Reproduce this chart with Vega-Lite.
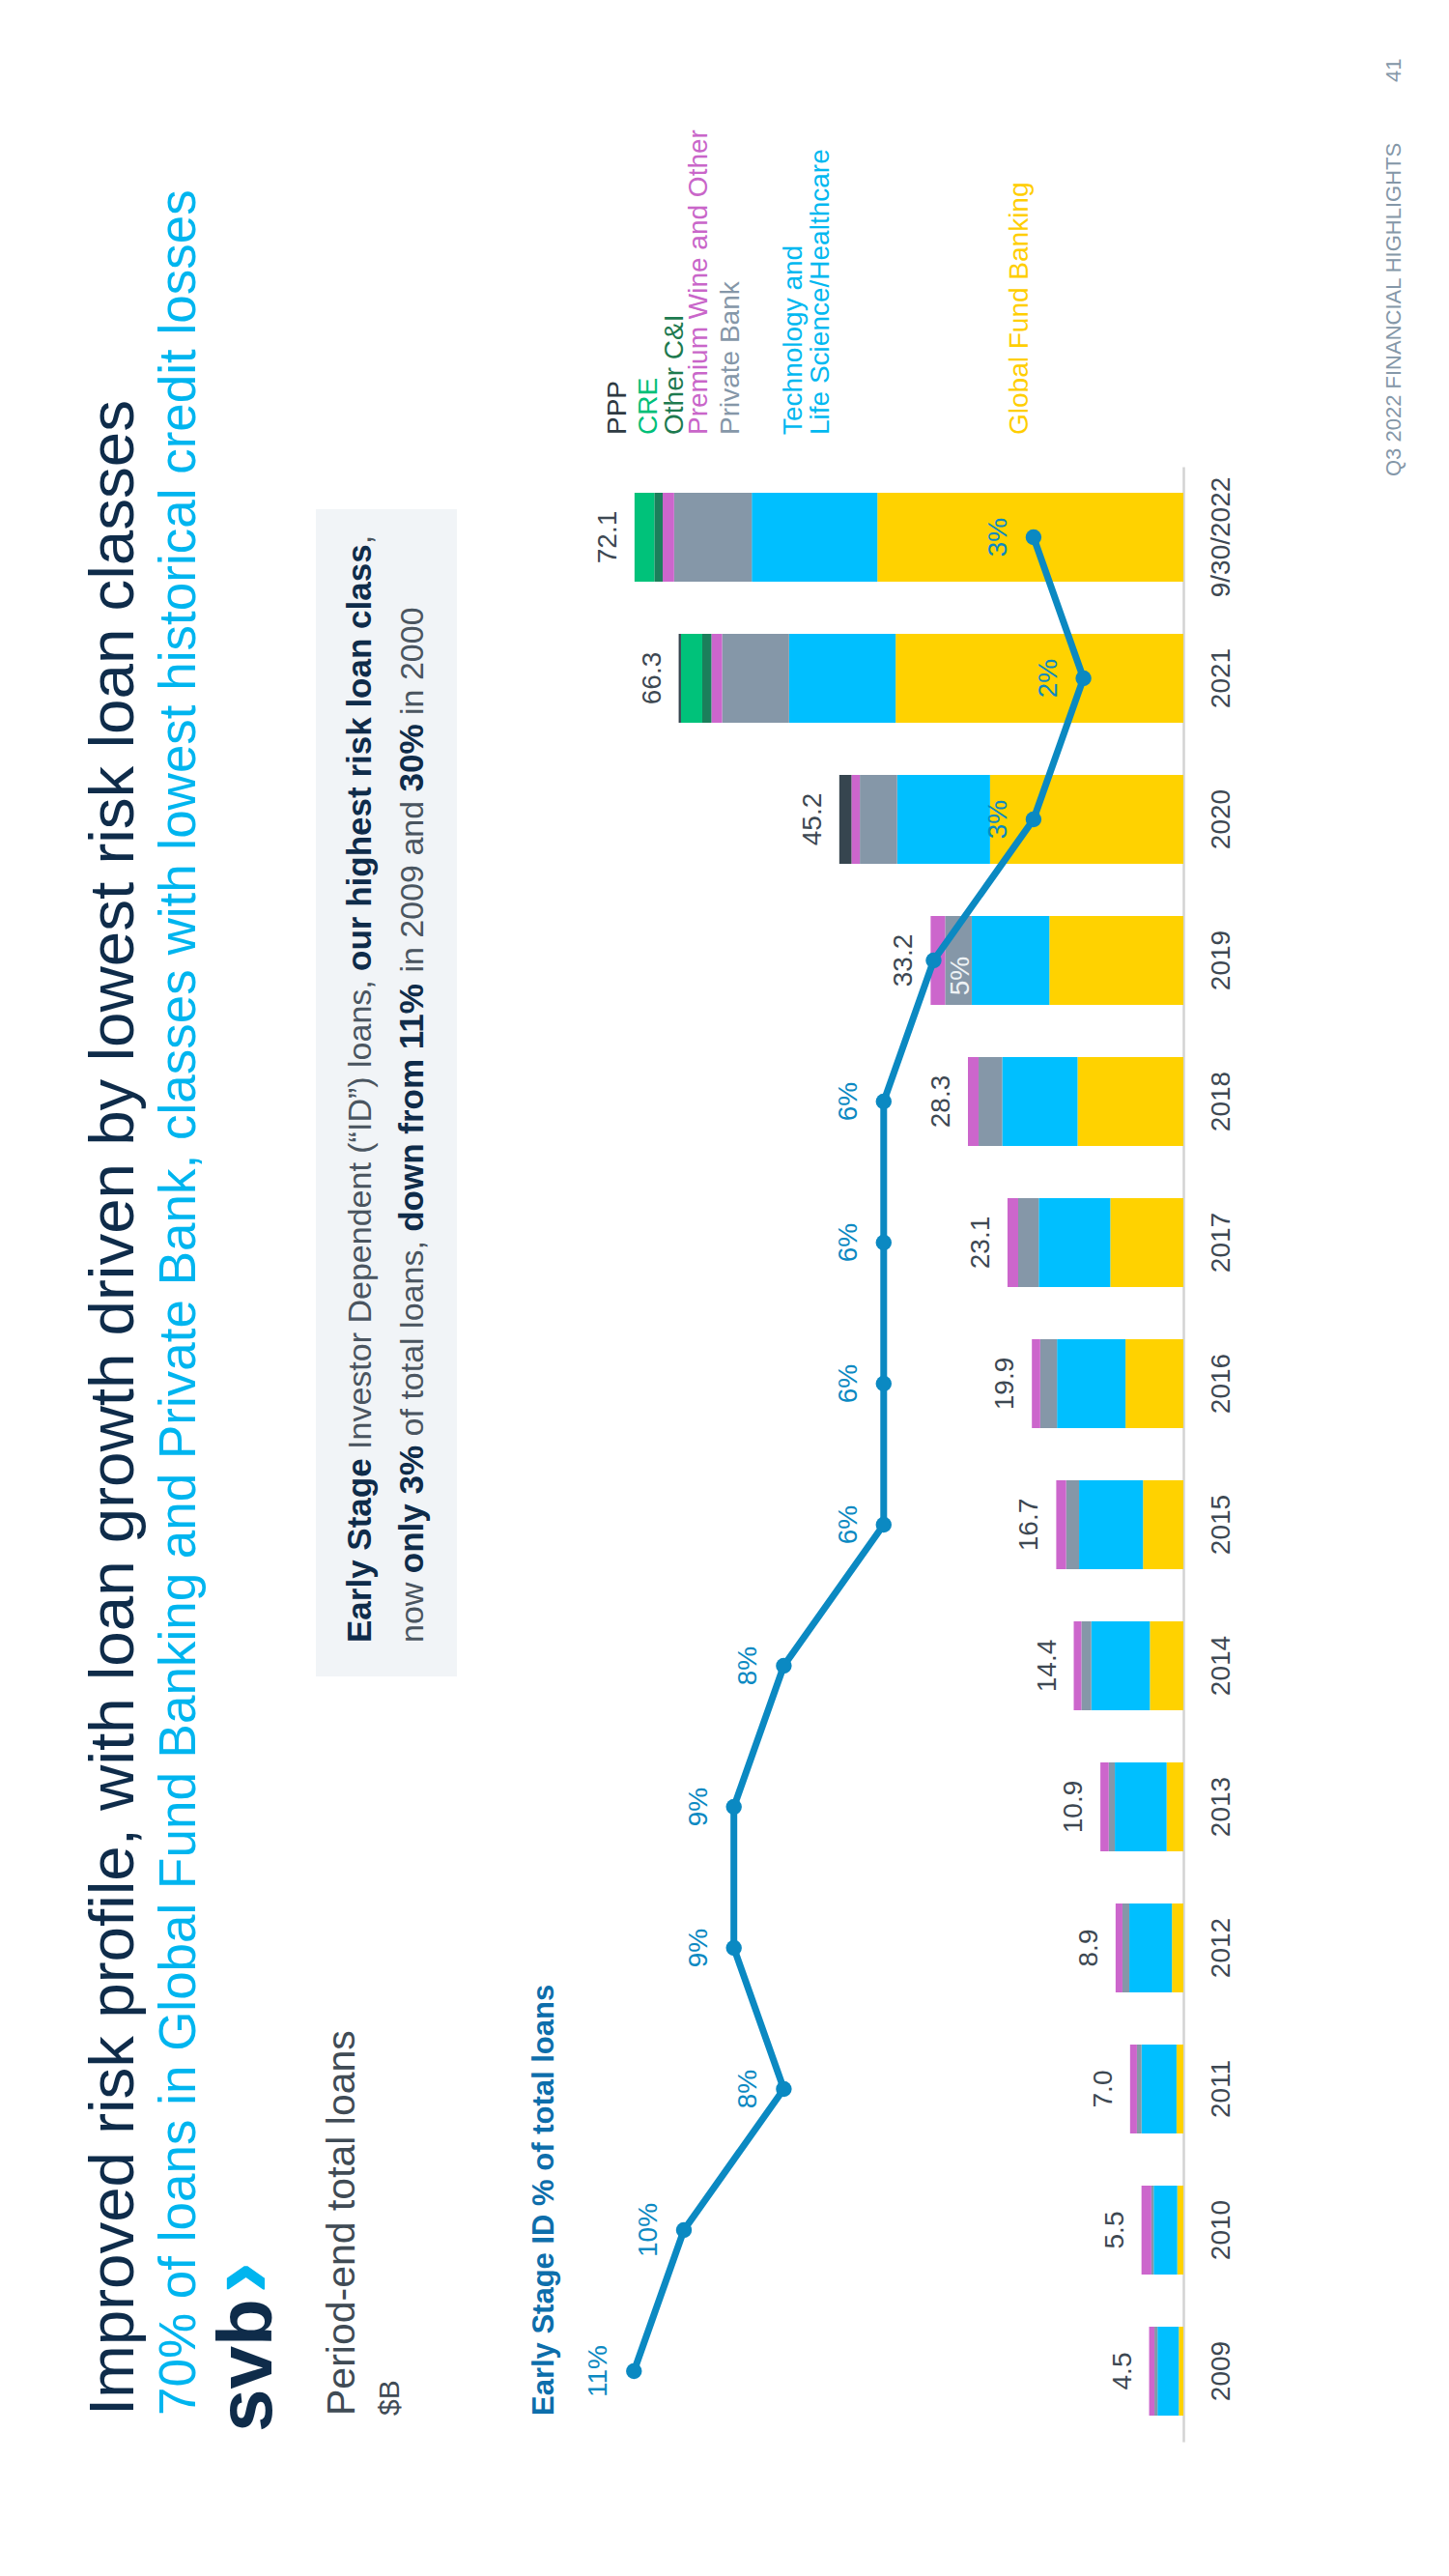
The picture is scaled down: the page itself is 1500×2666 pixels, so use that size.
{
  "$schema": "https://vega.github.io/schema/vega-lite/v6.json",
  "width": 1225,
  "height": 2044,
  "autosize": {"type": "none"},
  "padding": {"left": 0, "top": 483, "right": 275, "bottom": 139},
  "background": "white",
  "config": {
    "view": {"stroke": null},
    "text": {"font": "Liberation Sans", "angle": 270},
    "axisY": {"labelFont": "Liberation Sans", "ticks": false, "labelAngle": 270, "labelAlign": "center", "labelBaseline": "top", "labelPadding": 25, "labelFontSize": 28, "labelColor": "#3D4852", "domainColor": "#D3D3D3", "domainWidth": 2.5, "grid": false}
  },
  "datasets": {
    "loans": [
      {"year": "2009", "cls": "Global Fund Banking", "v": 0.6, "k": 1},
      {"year": "2009", "cls": "Technology and Life Science/Healthcare", "v": 2.8, "k": 2},
      {"year": "2009", "cls": "Private Bank", "v": 0.4, "k": 3},
      {"year": "2009", "cls": "Premium Wine and Other", "v": 0.7, "k": 4},
      {"year": "2010", "cls": "Global Fund Banking", "v": 0.8, "k": 1},
      {"year": "2010", "cls": "Technology and Life Science/Healthcare", "v": 3.1, "k": 2},
      {"year": "2010", "cls": "Private Bank", "v": 0.3, "k": 3},
      {"year": "2010", "cls": "Premium Wine and Other", "v": 1.3, "k": 4},
      {"year": "2011", "cls": "Global Fund Banking", "v": 0.9, "k": 1},
      {"year": "2011", "cls": "Technology and Life Science/Healthcare", "v": 4.6, "k": 2},
      {"year": "2011", "cls": "Private Bank", "v": 0.6, "k": 3},
      {"year": "2011", "cls": "Premium Wine and Other", "v": 0.9, "k": 4},
      {"year": "2012", "cls": "Global Fund Banking", "v": 1.5, "k": 1},
      {"year": "2012", "cls": "Technology and Life Science/Healthcare", "v": 5.6, "k": 2},
      {"year": "2012", "cls": "Private Bank", "v": 0.9, "k": 3},
      {"year": "2012", "cls": "Premium Wine and Other", "v": 0.9, "k": 4},
      {"year": "2013", "cls": "Global Fund Banking", "v": 2.2, "k": 1},
      {"year": "2013", "cls": "Technology and Life Science/Healthcare", "v": 6.8, "k": 2},
      {"year": "2013", "cls": "Private Bank", "v": 0.8, "k": 3},
      {"year": "2013", "cls": "Premium Wine and Other", "v": 1.1, "k": 4},
      {"year": "2014", "cls": "Global Fund Banking", "v": 4.4, "k": 1},
      {"year": "2014", "cls": "Technology and Life Science/Healthcare", "v": 7.7, "k": 2},
      {"year": "2014", "cls": "Private Bank", "v": 1.3, "k": 3},
      {"year": "2014", "cls": "Premium Wine and Other", "v": 1.0, "k": 4},
      {"year": "2015", "cls": "Global Fund Banking", "v": 5.3, "k": 1},
      {"year": "2015", "cls": "Technology and Life Science/Healthcare", "v": 8.4, "k": 2},
      {"year": "2015", "cls": "Private Bank", "v": 1.7, "k": 3},
      {"year": "2015", "cls": "Premium Wine and Other", "v": 1.3, "k": 4},
      {"year": "2016", "cls": "Global Fund Banking", "v": 7.6, "k": 1},
      {"year": "2016", "cls": "Technology and Life Science/Healthcare", "v": 9.0, "k": 2},
      {"year": "2016", "cls": "Private Bank", "v": 2.2, "k": 3},
      {"year": "2016", "cls": "Premium Wine and Other", "v": 1.1, "k": 4},
      {"year": "2017", "cls": "Global Fund Banking", "v": 9.6, "k": 1},
      {"year": "2017", "cls": "Technology and Life Science/Healthcare", "v": 9.4, "k": 2},
      {"year": "2017", "cls": "Private Bank", "v": 2.7, "k": 3},
      {"year": "2017", "cls": "Premium Wine and Other", "v": 1.4, "k": 4},
      {"year": "2018", "cls": "Global Fund Banking", "v": 13.9, "k": 1},
      {"year": "2018", "cls": "Technology and Life Science/Healthcare", "v": 9.9, "k": 2},
      {"year": "2018", "cls": "Private Bank", "v": 3.1, "k": 3},
      {"year": "2018", "cls": "Premium Wine and Other", "v": 1.4, "k": 4},
      {"year": "2019", "cls": "Global Fund Banking", "v": 17.6, "k": 1},
      {"year": "2019", "cls": "Technology and Life Science/Healthcare", "v": 10.2, "k": 2},
      {"year": "2019", "cls": "Private Bank", "v": 3.5, "k": 3},
      {"year": "2019", "cls": "Premium Wine and Other", "v": 1.9, "k": 4},
      {"year": "2020", "cls": "Global Fund Banking", "v": 25.4, "k": 1},
      {"year": "2020", "cls": "Technology and Life Science/Healthcare", "v": 12.2, "k": 2},
      {"year": "2020", "cls": "Private Bank", "v": 4.9, "k": 3},
      {"year": "2020", "cls": "Premium Wine and Other", "v": 1.1, "k": 4},
      {"year": "2020", "cls": "PPP", "v": 1.6, "k": 7},
      {"year": "2021", "cls": "Global Fund Banking", "v": 37.8, "k": 1},
      {"year": "2021", "cls": "Technology and Life Science/Healthcare", "v": 14.0, "k": 2},
      {"year": "2021", "cls": "Private Bank", "v": 8.8, "k": 3},
      {"year": "2021", "cls": "Premium Wine and Other", "v": 1.4, "k": 4},
      {"year": "2021", "cls": "Other C&I", "v": 1.2, "k": 5},
      {"year": "2021", "cls": "CRE", "v": 2.8, "k": 6},
      {"year": "2021", "cls": "PPP", "v": 0.3, "k": 7},
      {"year": "9/30/2022", "cls": "Global Fund Banking", "v": 40.2, "k": 1},
      {"year": "9/30/2022", "cls": "Technology and Life Science/Healthcare", "v": 16.5, "k": 2},
      {"year": "9/30/2022", "cls": "Private Bank", "v": 10.2, "k": 3},
      {"year": "9/30/2022", "cls": "Premium Wine and Other", "v": 1.5, "k": 4},
      {"year": "9/30/2022", "cls": "Other C&I", "v": 1.1, "k": 5},
      {"year": "9/30/2022", "cls": "CRE", "v": 2.6, "k": 6}
    ],
    "totals": [
      {"year": "2009", "total": 4.5, "pct": 0.11},
      {"year": "2010", "total": 5.5, "pct": 0.10},
      {"year": "2011", "total": 7.0, "pct": 0.08},
      {"year": "2012", "total": 8.9, "pct": 0.09},
      {"year": "2013", "total": 10.9, "pct": 0.09},
      {"year": "2014", "total": 14.4, "pct": 0.08},
      {"year": "2015", "total": 16.7, "pct": 0.06},
      {"year": "2016", "total": 19.9, "pct": 0.06},
      {"year": "2017", "total": 23.1, "pct": 0.06},
      {"year": "2018", "total": 28.3, "pct": 0.06},
      {"year": "2019", "total": 33.2, "pct": 0.05},
      {"year": "2020", "total": 45.2, "pct": 0.03},
      {"year": "2021", "total": 66.3, "pct": 0.02},
      {"year": "9/30/2022", "total": 72.1, "pct": 0.03}
    ]
  },
  "resolve": {"scale": {"x": "independent"}},
  "layer": [
    {
      "data": {"values": [{}]},
      "layer": [
        {
          "data": {"name": "loans"},
          "mark": {"type": "bar"},
          "encoding": {
            "y": {
              "field": "year", "type": "nominal",
              "scale": {"domain": ["9/30/2022","2021","2020","2019","2018","2017","2016","2015","2014","2013","2012","2011","2010","2009"], "paddingInner": 0.37, "paddingOuter": 0.185},
              "axis": {"orient": "right", "title": null}
            },
            "x": {"field": "v", "type": "quantitative", "stack": "zero", "scale": {"domain": [0, 155.46], "reverse": true, "nice": false, "zero": true}, "axis": null},
            "color": {
              "field": "cls", "type": "nominal",
              "scale": {"domain": ["Global Fund Banking","Technology and Life Science/Healthcare","Private Bank","Premium Wine and Other","Other C&I","CRE","PPP"], "range": ["#FFD200","#00BFFF","#8597A8","#CC66CC","#1B7F5B","#00C27A","#36454F"]},
              "legend": null
            },
            "order": {"field": "k", "type": "quantitative", "sort": "ascending"}
          }
        },
        {
          "data": {"name": "totals"},
          "mark": {"type": "text", "align": "center", "baseline": "alphabetic", "dy": -19, "fontSize": 28, "color": "#3D4852"},
          "encoding": {
            "y": {"field": "year", "type": "nominal", "axis": {"orient": "right", "title": null}},
            "x": {"field": "total", "type": "quantitative", "axis": null},
            "text": {"field": "total", "type": "quantitative", "format": ".1f"}
          }
        },
        {
          "mark": {"type": "rule", "strokeWidth": 146, "color": "#F1F4F7", "strokeCap": "butt", "yOffset": -29, "y2Offset": 11},
          "encoding": {
            "x": {"datum": 104.7, "type": "quantitative", "axis": null},
            "y": {"datum": "9/30/2022", "type": "nominal", "axis": {"orient": "right", "title": null}},
            "y2": {"datum": "2014"}
          }
        },
        {
          "mark": {"type": "text", "align": "left", "baseline": "alphabetic", "fontSize": 65.5, "color": "#0F2C4A", "dx": -46},
          "encoding": {"x": {"datum": 137.94, "type": "quantitative", "axis": null}, "y": {"datum": "2009", "type": "nominal", "axis": {"orient": "right", "title": null}}, "text": {"value": "Improved risk profile, with loan growth driven by lowest risk loan classes"}}
        },
        {
          "mark": {"type": "text", "align": "left", "baseline": "alphabetic", "fontSize": 53, "color": "#00B5EF", "dx": -46},
          "encoding": {"x": {"datum": 129.82, "type": "quantitative", "axis": null}, "y": {"datum": "2009", "type": "nominal", "axis": {"orient": "right", "title": null}}, "text": {"value": "70% of loans in Global Fund Banking and Private Bank, classes with lowest historical credit losses"}}
        },
        {
          "mark": {"type": "text", "align": "left", "baseline": "alphabetic", "fontSize": 41, "color": "#404B55", "dx": -46},
          "encoding": {"x": {"datum": 108.88, "type": "quantitative", "axis": null}, "y": {"datum": "2009", "type": "nominal", "axis": {"orient": "right", "title": null}}, "text": {"value": "Period-end total loans"}}
        },
        {
          "mark": {"type": "text", "align": "left", "baseline": "alphabetic", "fontSize": 30, "color": "#404B55", "dx": -46},
          "encoding": {"x": {"datum": 103.05, "type": "quantitative", "axis": null}, "y": {"datum": "2009", "type": "nominal", "axis": {"orient": "right", "title": null}}, "text": {"value": "$B"}}
        },
        {
          "mark": {"type": "text", "align": "left", "baseline": "alphabetic", "fontSize": 31, "fontWeight": "bold", "color": "#0D6EAB", "dx": -46},
          "encoding": {"x": {"datum": 82.74, "type": "quantitative", "axis": null}, "y": {"datum": "2009", "type": "nominal", "axis": {"orient": "right", "title": null}}, "text": {"value": "Early Stage ID % of total loans"}}
        },
        {
          "mark": {"type": "text", "align": "left", "baseline": "alphabetic", "fontSize": 80, "fontWeight": "bold", "color": "#0F2C4A", "dx": -63},
          "encoding": {"x": {"datum": 119.8, "type": "quantitative", "axis": null}, "y": {"datum": "2009", "type": "nominal", "axis": {"orient": "right", "title": null}}, "text": {"value": "svb"}}
        },
        {
          "mark": {"type": "text", "align": "left", "baseline": "alphabetic", "fontSize": 100, "fontWeight": "bold", "color": "#00B5EF", "dx": 80},
          "encoding": {"x": {"datum": 119.8, "type": "quantitative", "axis": null}, "y": {"datum": "2009", "type": "nominal", "axis": {"orient": "right", "title": null}}, "text": {"value": "›"}}
        },
        {
          "mark": {"type": "text", "align": "left", "baseline": "alphabetic", "fontSize": 35, "fontWeight": "bold", "color": "#0F2C4A", "dx": 24},
          "encoding": {"x": {"datum": 106.75, "type": "quantitative", "axis": null}, "y": {"datum": "2014", "type": "nominal", "axis": {"orient": "right", "title": null}}, "text": {"value": "Early Stage"}}
        },
        {
          "mark": {"type": "text", "align": "left", "baseline": "alphabetic", "fontSize": 34, "color": "#4A5560", "dx": 224.1},
          "encoding": {"x": {"datum": 106.75, "type": "quantitative", "axis": null}, "y": {"datum": "2014", "type": "nominal", "axis": {"orient": "right", "title": null}}, "text": {"value": "Investor Dependent (“ID”) loans,"}}
        },
        {
          "mark": {"type": "text", "align": "left", "baseline": "alphabetic", "fontSize": 35, "fontWeight": "bold", "color": "#0F2C4A", "dx": 719.1},
          "encoding": {"x": {"datum": 106.75, "type": "quantitative", "axis": null}, "y": {"datum": "2014", "type": "nominal", "axis": {"orient": "right", "title": null}}, "text": {"value": "our highest risk loan class"}}
        },
        {
          "mark": {"type": "text", "align": "left", "baseline": "alphabetic", "fontSize": 34, "color": "#4A5560", "dx": 1160.7},
          "encoding": {"x": {"datum": 106.75, "type": "quantitative", "axis": null}, "y": {"datum": "2014", "type": "nominal", "axis": {"orient": "right", "title": null}}, "text": {"value": ","}}
        },
        {
          "mark": {"type": "text", "align": "left", "baseline": "alphabetic", "fontSize": 34, "color": "#4A5560", "dx": 24},
          "encoding": {"x": {"datum": 99.9, "type": "quantitative", "axis": null}, "y": {"datum": "2014", "type": "nominal", "axis": {"orient": "right", "title": null}}, "text": {"value": "now"}}
        },
        {
          "mark": {"type": "text", "align": "left", "baseline": "alphabetic", "fontSize": 35, "fontWeight": "bold", "color": "#0F2C4A", "dx": 95.8},
          "encoding": {"x": {"datum": 99.9, "type": "quantitative", "axis": null}, "y": {"datum": "2014", "type": "nominal", "axis": {"orient": "right", "title": null}}, "text": {"value": "only 3%"}}
        },
        {
          "mark": {"type": "text", "align": "left", "baseline": "alphabetic", "fontSize": 34, "color": "#4A5560", "dx": 237.6},
          "encoding": {"x": {"datum": 99.9, "type": "quantitative", "axis": null}, "y": {"datum": "2014", "type": "nominal", "axis": {"orient": "right", "title": null}}, "text": {"value": "of total loans,"}}
        },
        {
          "mark": {"type": "text", "align": "left", "baseline": "alphabetic", "fontSize": 35, "fontWeight": "bold", "color": "#0F2C4A", "dx": 449.2},
          "encoding": {"x": {"datum": 99.9, "type": "quantitative", "axis": null}, "y": {"datum": "2014", "type": "nominal", "axis": {"orient": "right", "title": null}}, "text": {"value": "down from 11%"}}
        },
        {
          "mark": {"type": "text", "align": "left", "baseline": "alphabetic", "fontSize": 34, "color": "#4A5560", "dx": 717.4},
          "encoding": {"x": {"datum": 99.9, "type": "quantitative", "axis": null}, "y": {"datum": "2014", "type": "nominal", "axis": {"orient": "right", "title": null}}, "text": {"value": "in 2009 and"}}
        },
        {
          "mark": {"type": "text", "align": "left", "baseline": "alphabetic", "fontSize": 35, "fontWeight": "bold", "color": "#0F2C4A", "dx": 904.5},
          "encoding": {"x": {"datum": 99.9, "type": "quantitative", "axis": null}, "y": {"datum": "2014", "type": "nominal", "axis": {"orient": "right", "title": null}}, "text": {"value": "30%"}}
        },
        {
          "mark": {"type": "text", "align": "left", "baseline": "alphabetic", "fontSize": 34, "color": "#4A5560", "dx": 984},
          "encoding": {"x": {"datum": 99.9, "type": "quantitative", "axis": null}, "y": {"datum": "2014", "type": "nominal", "axis": {"orient": "right", "title": null}}, "text": {"value": "in 2000"}}
        },
        {
          "mark": {"type": "text", "align": "left", "baseline": "alphabetic", "fontSize": 28, "color": "#2E3A42", "dx": 106},
          "encoding": {"x": {"datum": 73.22, "type": "quantitative", "axis": null}, "y": {"datum": "9/30/2022", "type": "nominal", "axis": {"orient": "right", "title": null}}, "text": {"value": "PPP"}}
        },
        {
          "mark": {"type": "text", "align": "left", "baseline": "alphabetic", "fontSize": 28, "color": "#00BF78", "dx": 106},
          "encoding": {"x": {"datum": 69.16, "type": "quantitative", "axis": null}, "y": {"datum": "9/30/2022", "type": "nominal", "axis": {"orient": "right", "title": null}}, "text": {"value": "CRE"}}
        },
        {
          "mark": {"type": "text", "align": "left", "baseline": "alphabetic", "fontSize": 28, "color": "#1D7A4F", "dx": 106},
          "encoding": {"x": {"datum": 65.74, "type": "quantitative", "axis": null}, "y": {"datum": "9/30/2022", "type": "nominal", "axis": {"orient": "right", "title": null}}, "text": {"value": "Other C&I"}}
        },
        {
          "mark": {"type": "text", "align": "left", "baseline": "alphabetic", "fontSize": 28, "color": "#C966C9", "dx": 106},
          "encoding": {"x": {"datum": 62.56, "type": "quantitative", "axis": null}, "y": {"datum": "9/30/2022", "type": "nominal", "axis": {"orient": "right", "title": null}}, "text": {"value": "Premium Wine and Other"}}
        },
        {
          "mark": {"type": "text", "align": "left", "baseline": "alphabetic", "fontSize": 28, "color": "#8597A8", "dx": 106},
          "encoding": {"x": {"datum": 58.38, "type": "quantitative", "axis": null}, "y": {"datum": "9/30/2022", "type": "nominal", "axis": {"orient": "right", "title": null}}, "text": {"value": "Private Bank"}}
        },
        {
          "mark": {"type": "text", "align": "left", "baseline": "alphabetic", "fontSize": 28, "lineHeight": 28, "color": "#00B8F0", "dx": 106},
          "encoding": {"x": {"datum": 50.13, "type": "quantitative", "axis": null}, "y": {"datum": "9/30/2022", "type": "nominal", "axis": {"orient": "right", "title": null}}, "text": {"value": ["Technology and", "Life Science/Healthcare"]}}
        },
        {
          "mark": {"type": "text", "align": "left", "baseline": "alphabetic", "fontSize": 28, "color": "#FFCE00", "dx": 106},
          "encoding": {"x": {"datum": 20.43, "type": "quantitative", "axis": null}, "y": {"datum": "9/30/2022", "type": "nominal", "axis": {"orient": "right", "title": null}}, "text": {"value": "Global Fund Banking"}}
        },
        {
          "mark": {"type": "text", "align": "left", "baseline": "alphabetic", "fontSize": 22, "color": "#8497A8", "dx": 63},
          "encoding": {"x": {"datum": -28.55, "type": "quantitative", "axis": null}, "y": {"datum": "9/30/2022", "type": "nominal", "axis": {"orient": "right", "title": null}}, "text": {"value": "Q3 2022 FINANCIAL HIGHLIGHTS"}}
        },
        {
          "mark": {"type": "text", "align": "left", "baseline": "alphabetic", "fontSize": 22, "color": "#8497A8", "dx": 471},
          "encoding": {"x": {"datum": -28.55, "type": "quantitative", "axis": null}, "y": {"datum": "9/30/2022", "type": "nominal", "axis": {"orient": "right", "title": null}}, "text": {"value": "41"}}
        }
      ]
    },
    {
      "data": {"name": "totals"},
      "layer": [
        {
          "mark": {"type": "line", "strokeWidth": 7, "color": "#0B89C2"},
          "encoding": {
            "y": {"field": "year", "type": "nominal", "axis": {"orient": "right", "title": null}},
            "x": {"field": "pct", "type": "quantitative", "scale": {"domain": [0, 0.23694], "reverse": true, "nice": false, "zero": true}, "axis": null}
          }
        },
        {
          "mark": {"type": "circle", "size": 270, "color": "#0B89C2", "opacity": 1},
          "encoding": {
            "y": {"field": "year", "type": "nominal", "axis": {"orient": "right", "title": null}},
            "x": {"field": "pct", "type": "quantitative", "axis": null}
          }
        },
        {
          "transform": [{"filter": "datum.year != '2019'"}],
          "mark": {"type": "text", "align": "center", "baseline": "alphabetic", "dy": -28, "fontSize": 28, "color": "#0B89C2"},
          "encoding": {
            "y": {"field": "year", "type": "nominal", "axis": {"orient": "right", "title": null}},
            "x": {"field": "pct", "type": "quantitative", "axis": null},
            "text": {"field": "pct", "type": "quantitative", "format": ".0%"}
          }
        },
        {
          "transform": [{"filter": "datum.year == '2019'"}],
          "mark": {"type": "text", "align": "center", "baseline": "alphabetic", "dy": 37, "dx": -16, "fontSize": 28, "color": "#EEF2F5"},
          "encoding": {
            "y": {"field": "year", "type": "nominal", "axis": {"orient": "right", "title": null}},
            "x": {"field": "pct", "type": "quantitative", "axis": null},
            "text": {"field": "pct", "type": "quantitative", "format": ".0%"}
          }
        }
      ]
    }
  ]
}
